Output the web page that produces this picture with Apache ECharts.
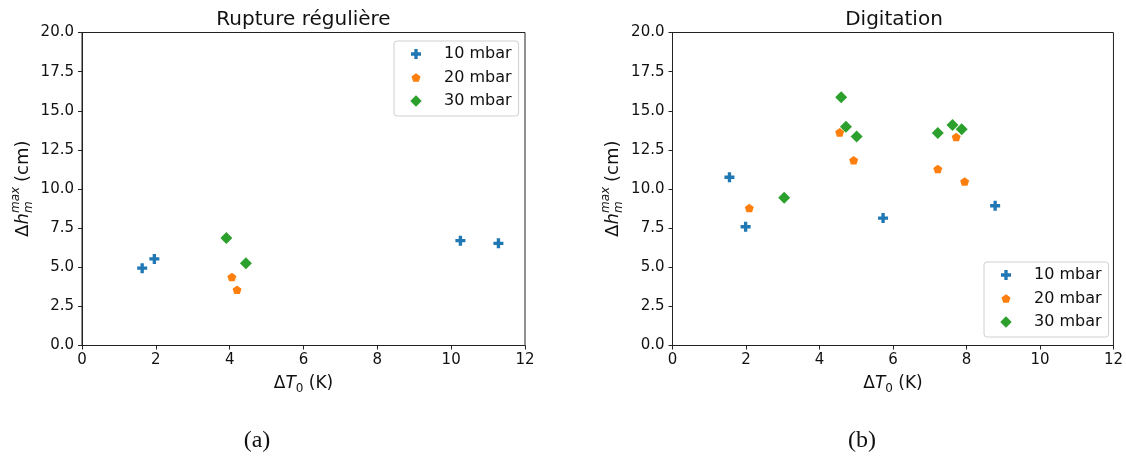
<!DOCTYPE html>
<html>
<head>
<meta charset="utf-8">
<script src="https://cdn.jsdelivr.net/npm/echarts@6/dist/echarts.min.js"></script>
<style>
html,body{margin:0;padding:0;background:#fff;}
#c{width:1126px;height:457px;}
</style>
</head>
<body>
<div id="c"></div>
<script>
// ---- data ----
const seriesNames = ['10 mbar', '20 mbar', '30 mbar'];
const panelTitles = ['Rupture régulière', 'Digitation'];
const panelCaptions = ['(a)', '(b)'];
const yTicks = [0, 2.5, 5, 7.5, 10, 12.5, 15, 17.5, 20];
const xTicks = [0, 2, 4, 6, 8, 10, 12];

// (a) Rupture régulière
const aX10 = [1.63, 1.96, 10.25, 11.28];
const aY10 = [4.94, 5.53, 6.70, 6.53];
const aX20 = [4.06, 4.20];
const aY20 = [4.38, 3.56];
const aX30 = [3.91, 4.44];
const aY30 = [6.87, 5.25];

// (b) Digitation
const bX10 = [1.55, 1.99, 5.73, 8.78];
const bY10 = [10.75, 7.59, 8.14, 8.93];
const bX20 = [2.09, 4.55, 4.93, 7.22, 7.72, 7.95];
const bY20 = [8.78, 13.62, 11.84, 11.28, 13.32, 10.48];
const bX30 = [3.04, 4.59, 4.72, 5.01, 7.22, 7.62, 7.87];
const bY30 = [9.44, 15.87, 13.98, 13.36, 13.58, 14.09, 13.81];

// ---- styling ----
const colors = ['#1f77b4', '#ff7f0e', '#2ca02c'];
const FONT = 'DejaVu Sans';
const plusPath = 'path://M-1,-3H1V-1H3V1H1V3H-1V1H-3V-1H-1Z';
const pentPath = 'path://M0,-1L0.951,-0.309L0.588,0.809L-0.588,0.809L-0.951,-0.309Z';
const plusLegend = 'path://M-3.6,-3.6M3.6,3.6M-1,-3H1V-1H3V1H1V3H-1V1H-3V-1H-1Z';
const pentLegend = 'path://M-1.27,-1.37M1.27,1.17M0,-1L0.951,-0.309L0.588,0.809L-0.588,0.809L-0.951,-0.309Z';
const symbols = [plusPath, pentPath, 'diamond'];
const symSizes = [10, 9, 12];
const legendIcons = [plusLegend, pentLegend, 'path://M-1.05,-1.05M1.05,1.05M0,-1L1,0L0,1L-1,0Z'];

const zip = (xs, ys) => xs.map((x, i) => [x, ys[i]]);
const panels = [
  [zip(aX10, aY10), zip(aX20, aY20), zip(aX30, aY30)],
  [zip(bX10, bY10), zip(bX20, bY20), zip(bX30, bY30)]
];

const gridLefts = [82, 672.5];
const gridW = 443, gridTop = 32.5, gridH = 313;
const captionX = [257, 862];

const grids = gridLefts.map(l => ({
  left: l, top: gridTop, width: gridW, height: gridH,
  show: true, borderColor: '#222', borderWidth: 1, backgroundColor: 'transparent'
}));

const xAxes = gridLefts.map((l, i) => ({
  type: 'value', gridIndex: i, min: xTicks[0], max: xTicks[xTicks.length - 1], interval: 2,
  splitLine: {show: false},
  axisLine: {show: true, lineStyle: {color: '#222', width: 1}},
  axisTick: {show: true, length: 4, lineStyle: {color: '#222'}},
  axisLabel: {color: '#111', fontFamily: FONT, fontSize: 15, margin: 7},
  name: '{n|Δ}{i|T}{s|0}{n| (K)}',
  nameLocation: 'middle', nameGap: 27,
  nameTextStyle: {
    rich: {
      n: {fontFamily: FONT, fontSize: 17, color: '#111', lineHeight: 22, verticalAlign: 'middle'},
      i: {fontFamily: FONT, fontSize: 17, fontStyle: 'italic', color: '#111', lineHeight: 22, verticalAlign: 'middle'},
      s: {fontFamily: FONT, fontSize: 12, color: '#111', lineHeight: 12, verticalAlign: 'bottom'}
    }
  }
}));

const yAxes = gridLefts.map((l, i) => ({
  type: 'value', gridIndex: i, min: yTicks[0], max: yTicks[yTicks.length - 1], interval: 2.5,
  splitLine: {show: false},
  axisLine: {show: true, lineStyle: {color: '#222', width: 1}},
  axisTick: {show: true, length: 4, lineStyle: {color: '#222'}},
  axisLabel: {color: '#111', fontFamily: FONT, fontSize: 15, margin: 8,
    formatter: v => v.toFixed(1)}
}));

const series = [];
panels.forEach((p, gi) => {
  p.forEach((d, si) => {
    series.push({
      type: 'scatter', name: seriesNames[si],
      xAxisIndex: gi, yAxisIndex: gi,
      data: d, symbol: symbols[si], symbolSize: symSizes[si], symbolKeepAspect: true,
      itemStyle: {color: colors[si], opacity: 1},
      emphasis: {disabled: true}
    });
  });
});

const legendBase = {
  orient: 'vertical', align: 'left', selectedMode: false,
  itemWidth: 40, itemHeight: 12, itemGap: 7.5,
  padding: [5, 7, 7, 16],
  borderColor: '#d0d0d0', borderWidth: 1, borderRadius: 3, backgroundColor: '#fff',
  textStyle: {fontFamily: FONT, fontSize: 16, color: '#111', lineHeight: 16, padding: [0, 0, 0, 3]},
  data: seriesNames.map((n, i) => ({name: n, icon: legendIcons[i]}))
};
const legends = [
  Object.assign({}, legendBase, {left: 394, top: 41}),
  Object.assign({}, legendBase, {left: 984, top: 262})
];

// y axis label (rotated, with stacked sub/superscript)
function yLabel(cx) {
  const cy = gridTop + gridH / 2;
  const total = 96;
  return {
    type: 'group', x: cx, y: cy + total / 2, rotation: Math.PI / 2,
    children: [
      {type: 'text', x: 0, y: 0, style: {text: 'Δ', font: '18px ' + FONT, fill: '#111', verticalAlign: 'middle'}},
      {type: 'text', x: 12.5, y: 0, style: {text: 'h', font: 'italic 18px ' + FONT, fill: '#111', verticalAlign: 'middle'}},
      {type: 'text', x: 24, y: -7.5, style: {text: 'max', font: 'italic 12px ' + FONT, fill: '#111', verticalAlign: 'middle'}},
      {type: 'text', x: 24, y: 6, style: {text: 'm', font: 'italic 12px ' + FONT, fill: '#111', verticalAlign: 'middle'}},
      {type: 'text', x: 55, y: 0, style: {text: '(cm)', font: '18px ' + FONT, fill: '#111', verticalAlign: 'middle'}}
    ]
  };
}

const graphics = [];
gridLefts.forEach((l, i) => {
  graphics.push({type: 'text', x: l + gridW / 2, y: 20,
    style: {text: panelTitles[i], font: '20px ' + FONT, fill: '#111', align: 'center', verticalAlign: 'middle'}});
  graphics.push({type: 'text', x: captionX[i], y: 441,
    style: {text: panelCaptions[i], font: '24px "Liberation Serif"', fill: '#111', align: 'center', verticalAlign: 'middle'}});
});
graphics.push(yLabel(23));
graphics.push(yLabel(613));

const chart = echarts.init(document.getElementById('c'), null, {renderer: 'canvas'});
chart.setOption({
  animation: false,
  backgroundColor: '#fff',
  grid: grids,
  xAxis: xAxes,
  yAxis: yAxes,
  legend: legends,
  series: series,
  graphic: graphics
});
</script>
</body>
</html>
